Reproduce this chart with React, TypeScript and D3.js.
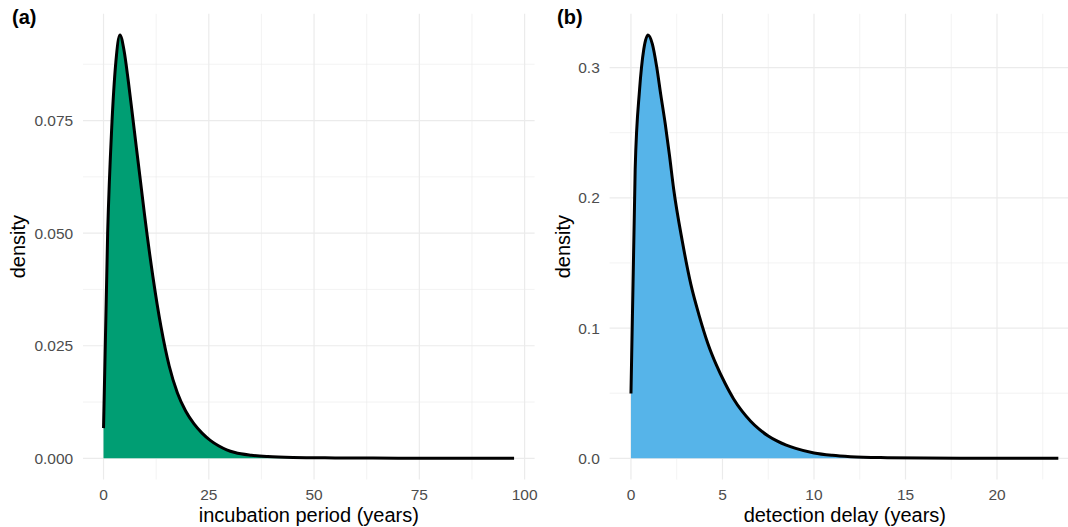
import React from "react";
import * as d3 from "d3";

// panel (a): incubation period density
const incubationX = [0, 0.98, 1.95, 2.93, 3.9, 4.88, 5.85, 6.83, 7.8, 8.78, 9.75, 11.7, 13.65, 15.6, 17.55, 19.5, 21.45, 23.4, 25.35, 27.3, 29.25, 31.2, 35.1, 39, 45, 55, 70, 85, 97.5];
const incubationY = [0.0067, 0.05, 0.0735, 0.088, 0.094, 0.0905, 0.084, 0.0765, 0.069, 0.0615, 0.054, 0.0405, 0.0292, 0.0205, 0.0145, 0.0105, 0.0077, 0.0056, 0.004, 0.0028, 0.0019, 0.0013, 0.0007, 0.0004, 0.0002, 0.0001, 0.00003, 0.00001, 0];

// panel (b): detection delay density
const delayX = [0, 0.23, 0.47, 0.7, 0.93, 1.17, 1.4, 1.63, 1.87, 2.1, 2.33, 2.8, 3.27, 3.73, 4.2, 4.67, 5.14, 5.6, 6.07, 6.54, 7.0, 7.5, 8.0, 9.0, 10, 11, 12, 14, 16, 18, 20, 23.35];
const delayY = [0.0497, 0.222, 0.283, 0.314, 0.325, 0.318, 0.301, 0.279, 0.257, 0.233, 0.207, 0.167, 0.1337, 0.1094, 0.0882, 0.0715, 0.0576, 0.0458, 0.0362, 0.0285, 0.0224, 0.0172, 0.0132, 0.0076, 0.0041, 0.0023, 0.0013, 0.0005, 0.0002, 0.0001, 0.00004, 0];

const incubationXTicks = [0, 25, 50, 75, 100];
const incubationXMinor = [12.5, 37.5, 62.5, 87.5];
const incubationYTicks = [0, 0.025, 0.05, 0.075];
const incubationYMinor = [0.0125, 0.0375, 0.0625, 0.0875];

const delayXTicks = [0, 5, 10, 15, 20];
const delayXMinor = [2.5, 7.5, 12.5, 17.5, 22.5];
const delayYTicks = [0, 0.1, 0.2, 0.3];
const delayYMinor = [0.05, 0.15, 0.25];

const W = 1068;
const H = 527;
const FONT = "'Liberation Sans', Arial, Helvetica, sans-serif";

type PanelProps = {
  tag: string;
  xs: number[];
  ys: number[];
  fill: string;
  xTitle: string;
  xTicks: number[];
  xMinor: number[];
  yTicks: number[];
  yMinor: number[];
  yFormat: (d: number) => string;
  left: number;
  right: number;
  tagX: number;
  titleX: number;
};

const Panel = (p: PanelProps) => {
  const top = 13.8;
  const bottom = 479.5;
  const xMax = d3.max(p.xs) as number;
  const yMax = d3.max(p.ys) as number;

  // ggplot-style 5% expansion on both axes
  const x = d3.scaleLinear()
    .domain([-0.05 * xMax, xMax * 1.05])
    .range([p.left, p.right]);
  const y = d3.scaleLinear()
    .domain([-0.05 * yMax, yMax * 1.05])
    .range([bottom, top]);

  const pts = p.xs.map((v, i) => [v, p.ys[i]] as [number, number]);

  const area = d3.area<[number, number]>()
    .x(d => x(d[0]))
    .y0(y(0))
    .y1(d => y(d[1]))
    .curve(d3.curveMonotoneX);

  const line = d3.line<[number, number]>()
    .x(d => x(d[0]))
    .y(d => y(d[1]))
    .curve(d3.curveMonotoneX);

  const grid = "#EBEBEB";

  return (
    <g>
      {/* minor grid */}
      {p.xMinor.map(t => (
        <line key={"xm" + t} x1={x(t)} x2={x(t)} y1={top} y2={bottom} stroke={grid} strokeWidth={0.6} />
      ))}
      {p.yMinor.map(t => (
        <line key={"ym" + t} x1={p.left} x2={p.right} y1={y(t)} y2={y(t)} stroke={grid} strokeWidth={0.6} />
      ))}
      {/* major grid */}
      {p.xTicks.map(t => (
        <line key={"x" + t} x1={x(t)} x2={x(t)} y1={top} y2={bottom} stroke={grid} strokeWidth={1.2} />
      ))}
      {p.yTicks.map(t => (
        <line key={"y" + t} x1={p.left} x2={p.right} y1={y(t)} y2={y(t)} stroke={grid} strokeWidth={1.2} />
      ))}

      <path d={area(pts) || ""} fill={p.fill} />
      <path d={line(pts) || ""} fill="none" stroke="#000" strokeWidth={3} strokeLinejoin="round" />

      {/* tick labels */}
      {p.xTicks.map(t => (
        <text key={"xl" + t} x={x(t)} y={499.5} textAnchor="middle" fontSize={15.5} fill="#4D4D4D" fontFamily={FONT}>
          {t}
        </text>
      ))}
      {p.yTicks.map(t => (
        <text key={"yl" + t} x={p.left - 9.8} y={y(t)} dy="0.36em" textAnchor="end" fontSize={15.5} fill="#4D4D4D" fontFamily={FONT}>
          {p.yFormat(t)}
        </text>
      ))}

      {/* axis titles */}
      <text x={(p.left + Math.min(p.right, W)) / 2 + (p.right > W ? 6 : 0)} y={522} textAnchor="middle" fontSize={20} fill="#000" fontFamily={FONT}>
        {p.xTitle}
      </text>
      <text transform={`translate(${p.titleX},${(top + bottom) / 2}) rotate(-90)`} textAnchor="middle" fontSize={20} fill="#000" fontFamily={FONT}>
        density
      </text>

      <text x={p.tagX} y={24} fontSize={20} fontWeight="bold" fill="#000" fontFamily={FONT}>
        {p.tag}
      </text>
    </g>
  );
};

export default function App() {
  return (
    <svg width={W} height={H} style={{ position: "absolute", left: 0, top: 0, background: "#fff" }}>
      <Panel
        tag="(a)"
        xs={incubationX}
        ys={incubationY}
        fill="#009E73"
        xTitle="incubation period (years)"
        xTicks={incubationXTicks}
        xMinor={incubationXMinor}
        yTicks={incubationYTicks}
        yMinor={incubationYMinor}
        yFormat={d3.format(".3f")}
        left={83}
        right={534.6}
        tagX={12}
        titleX={25}
      />
      <Panel
        tag="(b)"
        xs={delayX}
        ys={delayY}
        fill="#56B4E9"
        xTitle="detection delay (years)"
        xTicks={delayXTicks}
        xMinor={delayXMinor}
        yTicks={delayYTicks}
        yMinor={delayYMinor}
        yFormat={d3.format(".1f")}
        left={609.6}
        right={1079.7}
        tagX={557}
        titleX={570}
      />
    </svg>
  );
}
